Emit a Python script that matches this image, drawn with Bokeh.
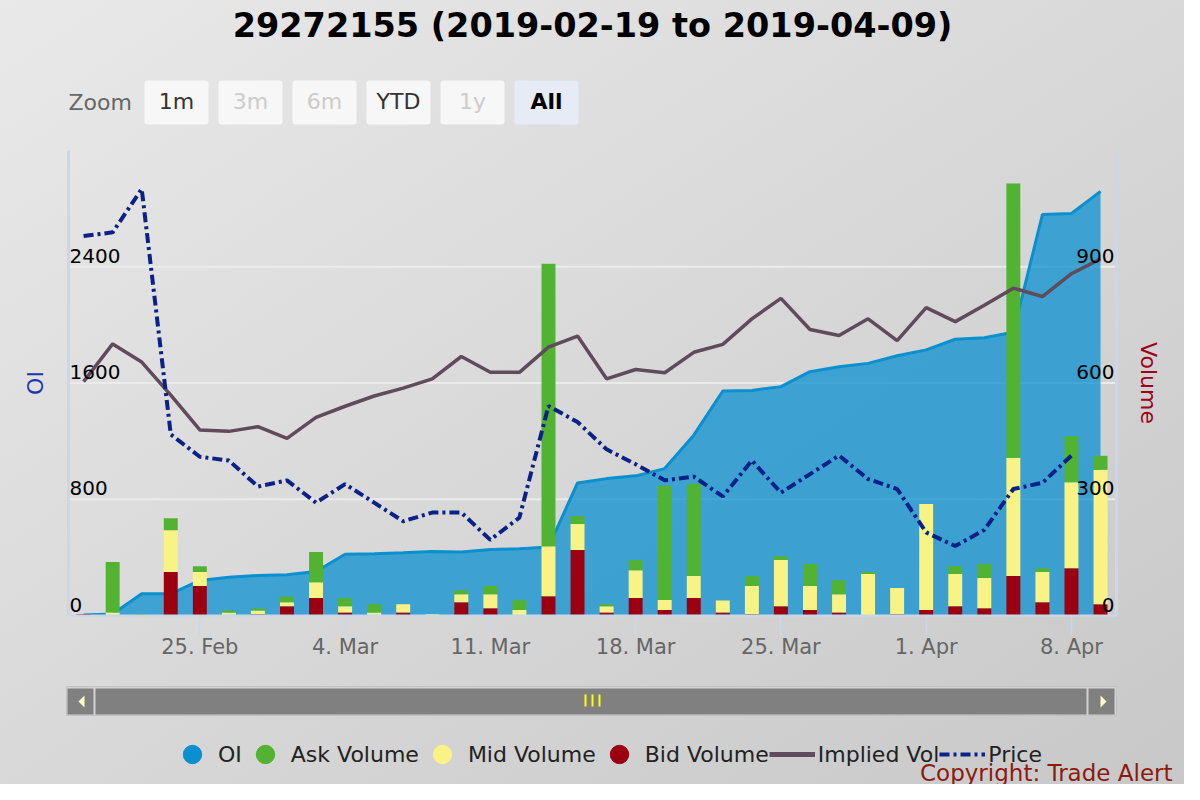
import math
from bokeh.plotting import figure
from bokeh.layouts import column
from bokeh.models import (ColumnDataSource, Range1d, LinearAxis, FixedTicker, Span,
                          BoxAnnotation, Legend, LegendItem)
from bokeh.core.properties import value
from bokeh.embed import file_html
from bokeh.resources import INLINE

# ---------------- data ----------------
title_text = "29272155 (2019-02-19 to 2019-04-09)"

dates = ["2019-02-19", "2019-02-20", "2019-02-21", "2019-02-22",
         "2019-02-25", "2019-02-26", "2019-02-27", "2019-02-28", "2019-03-01",
         "2019-03-04", "2019-03-05", "2019-03-06", "2019-03-07", "2019-03-08",
         "2019-03-11", "2019-03-12", "2019-03-13", "2019-03-14", "2019-03-15",
         "2019-03-18", "2019-03-19", "2019-03-20", "2019-03-21", "2019-03-22",
         "2019-03-25", "2019-03-26", "2019-03-27", "2019-03-28", "2019-03-29",
         "2019-04-01", "2019-04-02", "2019-04-03", "2019-04-04", "2019-04-05",
         "2019-04-08", "2019-04-09"]

oi = [4, 11, 149, 149, 241, 264, 276, 280, 303, 421, 425, 432, 441, 437, 455, 459,
      471, 912, 942, 961, 1011, 1241, 1545, 1549, 1575, 1678, 1712, 1735, 1788, 1828,
      1901, 1912, 1949, 2759, 2766, 2919]

bid_volume = [3, 0, 0, 112, 76, 0, 3, 24, 45, 8, 0, 8, 0, 34, 19, 0, 50, 169, 8, 45,
              14, 45, 8, 3, 24, 14, 8, 0, 3, 14, 24, 19, 102, 34, 122, 29]
mid_volume = [0, 8, 0, 108, 36, 8, 10, 10, 41, 16, 8, 21, 3, 21, 36, 14, 129, 67, 16, 72,
              26, 57, 31, 73, 119, 62, 47, 107, 68, 274, 83, 78, 305, 78, 222, 347]
ask_volume = [0, 130, 3, 31, 15, 5, 5, 15, 78, 21, 21, 0, 0, 10, 21, 26, 729, 21, 5, 26,
              295, 238, 0, 26, 10, 57, 36, 5, 0, 0, 21, 36, 708, 10, 119, 36]

implied_vol = [50.3, 58.4, 54.5, 47.4, 39.9, 39.6, 40.6, 38.1, 42.6, 45.0, 47.2, 48.9,
               50.9, 55.7, 52.3, 52.3, 57.7, 60.1, 50.9, 52.9, 52.2, 56.6, 58.3, 63.8,
               68.2, 61.5, 60.2, 63.8, 59.1, 66.2, 63.2, 66.7, 70.4, 68.6, 73.5, 76.7]

price = [3.06, 3.09, 3.44, 1.46, 1.28, 1.25, 1.04, 1.09, 0.91, 1.06, 0.91, 0.76,
         0.83, 0.83, 0.61, 0.79, 1.69, 1.56, 1.34, 1.22, 1.09, 1.12, 0.96, 1.25,
         0.99, 1.14, 1.29, 1.10, 1.02, 0.67, 0.56, 0.69, 1.02, 1.07, 1.29]

x_tick_dates = ["2019-02-25", "2019-03-04", "2019-03-11", "2019-03-18",
                "2019-03-25", "2019-04-01", "2019-04-08"]
x_tick_labels = ["25. Feb", "4. Mar", "11. Mar", "18. Mar", "25. Mar", "1. Apr", "8. Apr"]

oi_ticks = [0, 800, 1600, 2400]
oi_tick_labels = ["0", "800", "1600", "2400"]
vol_ticks = [0, 300, 600, 900]
vol_tick_labels = ["0", "300", "600", "900"]
oi_axis_title = "OI"
vol_axis_title = "Volume"

zoom_buttons = ["1m", "3m", "6m", "YTD", "1y", "All"]
zoom_enabled = [True, False, False, True, False, True]
legend_labels = ["OI", "Ask Volume", "Mid Volume", "Bid Volume", "Implied Vol", "Price"]
copyright_text = "Copyright: Trade Alert"

# ---------------- styles ----------------
FONT = "DejaVu Sans"
OI_COLOR = "#0a90cf"
ASK_COLOR = "#52b232"
MID_COLOR = "#f9f385"
BID_COLOR = "#9b0010"
IV_COLOR = "#5f4b5b"
PRICE_COLOR = "#0a2188"
AXIS_LINE = "#ccd6eb"
W = 1184
MARGIN_L, MARGIN_R = 68, 68          # plot area inset inside the full-width frame

idx = list(range(len(dates)))
x_ticks = [dates.index(d) for d in x_tick_dates]


def deco_fig(h):
    return figure(width=W, height=h, output_backend="svg", toolbar_location=None,
                  x_range=Range1d(0, W), y_range=Range1d(h, 0),
                  x_axis_type=None, y_axis_type=None, min_border=0,
                  background_fill_alpha=0, border_fill_alpha=0, outline_line_color=None)


# ================= header: title + range selector =================
H1 = 150
hdr = deco_fig(H1)
hdr.text(x=[W / 2], y=[25], text=[title_text], text_align="center", text_baseline="middle",
         text_font=value(FONT), text_font_size="33.5px", text_font_style="bold",
         text_color="#000000")
hdr.text(x=[68], y=[102], text=["Zoom"], text_align="left", text_baseline="middle",
         text_font=value(FONT), text_font_size="22px", text_color="#666666")
for i, (lab, en) in enumerate(zip(zoom_buttons, zoom_enabled)):
    bl = 144 + 74 * i
    sel = lab == "All"
    hdr.add_layout(BoxAnnotation(left=bl, right=bl + 64, top=80, bottom=124,
                                 fill_color="#e6ebf5" if sel else "#f7f7f7", fill_alpha=1,
                                 line_alpha=0, border_radius=3, level="underlay"))
    hdr.text(x=[bl + 32], y=[101], text=[lab], text_align="center", text_baseline="middle",
             text_font=value(FONT), text_font_size="22px",
             text_font_style="bold" if sel else "normal",
             text_color="#000000" if sel else ("#333333" if en else "#cccccc"))

# ================= main chart =================
H2 = 530
xa0, xa1 = -0.52, 35.55                       # plot-area extent in trading-day index
ppx = (W - MARGIN_L - MARGIN_R) / (xa1 - xa0)  # pixels per trading day
p = figure(width=W, height=H2, output_backend="svg", toolbar_location=None,
           x_range=Range1d(xa0 - MARGIN_L / ppx, xa1 + MARGIN_R / ppx),
           y_range=Range1d(0, 3200), x_axis_type=None, y_axis_type=None,
           min_border_left=0, min_border_right=0, min_border_top=0, min_border_bottom=65,
           background_fill_alpha=0, border_fill_alpha=0, outline_line_color=None)
p.extra_y_ranges = {"vol": Range1d(0, 1200), "iv": Range1d(0, 100), "price": Range1d(0, 3.75)}

# horizontal grid lines (limited to the plot area)
grid_y = oi_ticks[1:]
p.segment(x0=[xa0] * len(grid_y), x1=[xa1] * len(grid_y), y0=grid_y, y1=grid_y,
          line_color="#ebebeb", line_width=2)

# x axis
xaxis = LinearAxis(ticker=FixedTicker(ticks=x_ticks), bounds=(xa0, xa1),
                   major_label_overrides=dict(zip(x_ticks, x_tick_labels)),
                   axis_line_color=AXIS_LINE, axis_line_width=2,
                   major_tick_line_color=AXIS_LINE, major_tick_line_width=1.5,
                   major_tick_out=19, major_tick_in=0, minor_tick_out=0, minor_tick_in=0,
                   major_label_text_font=FONT, major_label_text_font_size="21px",
                   major_label_text_color="#666666", major_label_standoff=0)
p.add_layout(xaxis, "below")

# y axis lines
p.add_layout(Span(location=xa0, dimension="height", line_color=AXIS_LINE, line_width=3))
p.add_layout(Span(location=xa1, dimension="height", line_color=AXIS_LINE, line_width=3))

# OI area
p.varea(x=idx, y1=[0] * len(idx), y2=oi, fill_color=OI_COLOR, fill_alpha=0.75)
p.line(idx, oi, line_color=OI_COLOR, line_width=3)

# stacked volume columns
bar_src = ColumnDataSource(dict(x=idx, bid=bid_volume, mid=mid_volume, ask=ask_volume))
p.vbar_stack(["bid", "mid", "ask"], x="x", width=0.48, source=bar_src,
             fill_color=[BID_COLOR, MID_COLOR, ASK_COLOR], line_color=None,
             y_range_name="vol")

# implied vol and price
p.line(idx, implied_vol, y_range_name="iv", line_color=IV_COLOR, line_width=3.5)
p.line(idx[:len(price)], price, y_range_name="price", line_color=PRICE_COLOR,
       line_width=4, line_dash="10 4 3 4")

# y tick labels (inside plot area, above grid lines)
lsrc = ColumnDataSource(dict(x=[xa0] * len(oi_ticks), y=oi_ticks, t=oi_tick_labels))
p.text(x="x", y="y", text="t", source=lsrc, x_offset=1, y_offset=-11,
       text_align="left", text_baseline="middle", text_font=value(FONT),
       text_font_size="20px", text_color="#000000")
rsrc = ColumnDataSource(dict(x=[xa1] * len(vol_ticks), y=vol_ticks, t=vol_tick_labels))
p.text(x="x", y="y", text="t", source=rsrc, x_offset=-2, y_offset=-11,
       text_align="right", text_baseline="middle", text_font=value(FONT),
       text_font_size="20px", text_color="#000000", y_range_name="vol")

# axis titles
ymid = (p.y_range.start + p.y_range.end) / 2
p.text(x=[xa0 - 33 / ppx], y=[ymid], text=[oi_axis_title], angle=math.pi / 2,
       text_align="center", text_baseline="middle", text_font=value(FONT),
       text_font_size="22px", text_color="#1f35b0")
p.text(x=[xa1 + 32 / ppx], y=[ymid], text=[vol_axis_title], angle=-math.pi / 2,
       text_align="center", text_baseline="middle", text_font=value(FONT),
       text_font_size="22px", text_color="#a0001a")

# ================= footer: scrollbar, legend, copyright =================
H3 = 104
ftr = deco_fig(H3)
ftr.quad(left=[66], right=[1116], top=[6], bottom=[35], fill_color="#d2d2d2",
         line_color="#c2c2c2", line_width=1)
ftr.quad(left=[95, 67, 1088], right=[1086, 93, 1114], top=[8, 8, 8], bottom=[34, 34, 34],
         fill_color="#808080", line_color=None)
ftr.patches(xs=[[78, 84, 84], [1106, 1100, 1100]], ys=[[21, 15, 27], [21, 15, 27]],
            fill_color="#ffffcc", line_color=None)
ftr.quad(left=[584, 591, 598], right=[586, 593, 600], top=[14, 14, 14], bottom=[26, 26, 26],
         fill_color="#ffff00", line_color=None)

nan = [math.nan]
leg_r = []
for c in (OI_COLOR, ASK_COLOR, MID_COLOR, BID_COLOR):
    leg_r.append(ftr.scatter(nan, nan, marker="circle", size=18, fill_color=c, line_color=c))
leg_r.append(ftr.line(nan, nan, line_color=IV_COLOR, line_width=5))
leg_r.append(ftr.line(nan, nan, line_color=PRICE_COLOR, line_width=4, line_dash="10 4 3 4"))
legend = Legend(items=[LegendItem(label=l, renderers=[r]) for l, r in zip(legend_labels, leg_r)],
                orientation="horizontal", location=(169, 7),
                glyph_width=46, glyph_height=46, label_standoff=3, spacing=-8,
                padding=0, margin=0, background_fill_alpha=0, border_line_alpha=0,
                label_text_font=FONT, label_text_font_size="22px",
                label_text_color="#222222")
ftr.add_layout(legend)

ftr.text(x=[1172], y=[92], text=[copyright_text], text_align="right", text_baseline="middle",
         text_font=value(FONT), text_font_size="23px", text_color="#8b1a10")

layout = column(hdr, p, ftr, spacing=0)
layout.styles = {"background": "linear-gradient(to bottom right, #e9e9e9, #c8c8c8)"}

open("out.html", "w").write(file_html(layout, INLINE))
